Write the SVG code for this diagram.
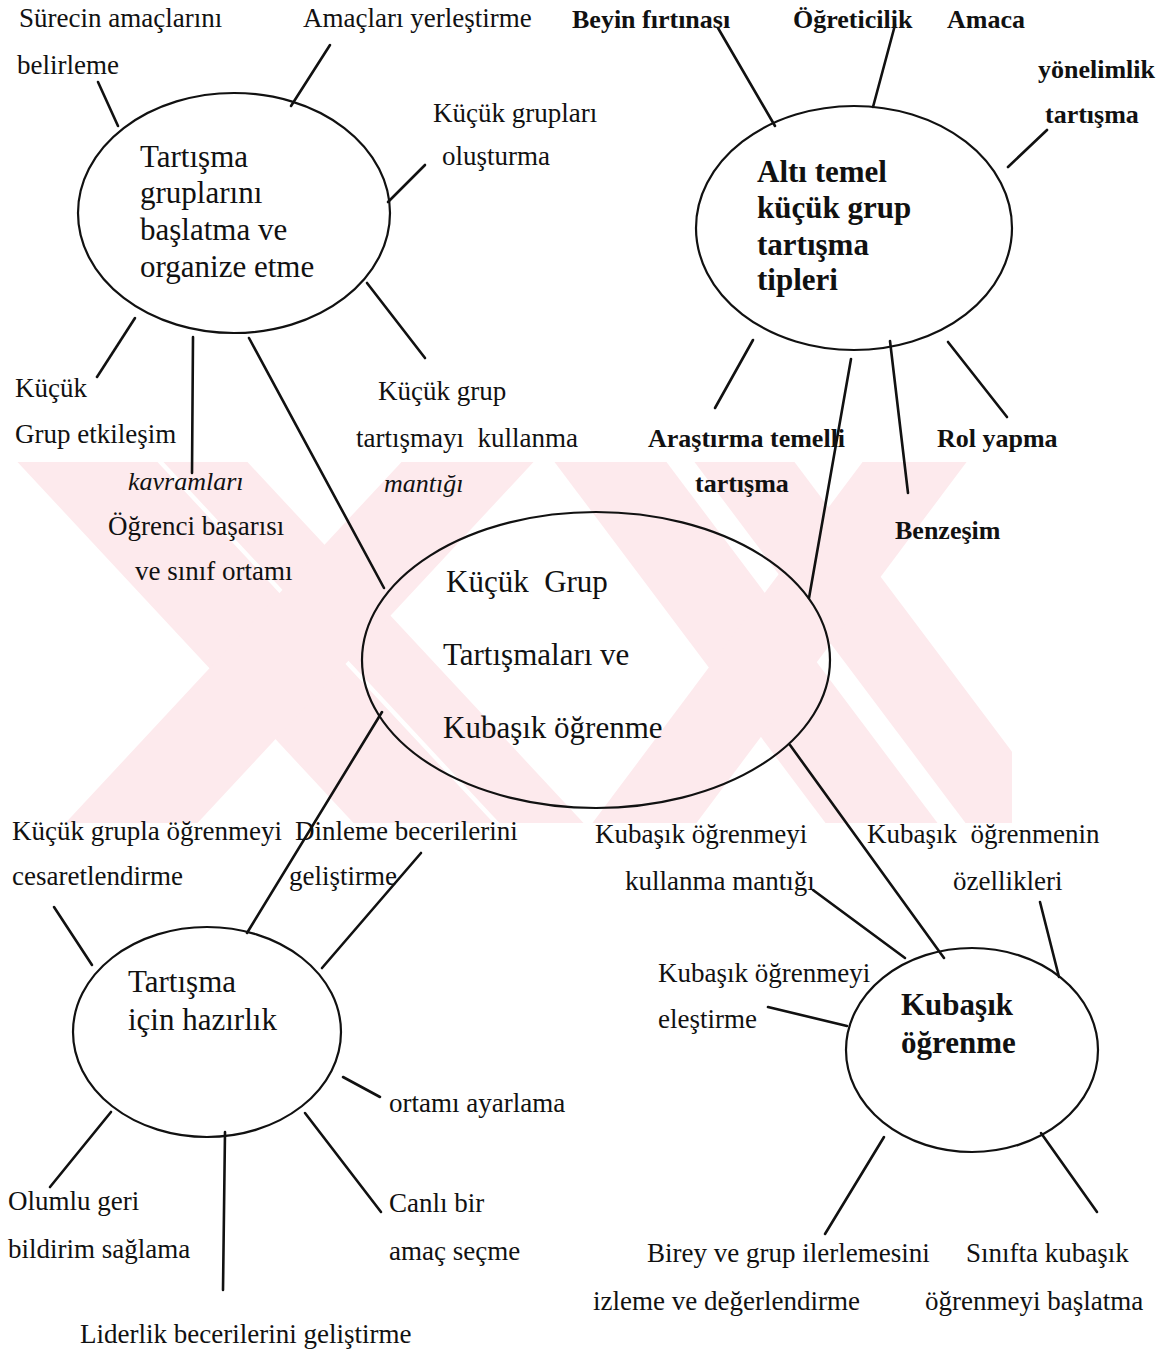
<svg xmlns="http://www.w3.org/2000/svg" width="1165" height="1359" viewBox="0 0 1165 1359">
  <style>
    .bg { fill: #ffffff; }
    .wm { fill: #fdeaed; }
    .node { fill: none; stroke: #111; stroke-width: 2.2; }
    .link { stroke: #111; stroke-width: 2.6; stroke-linecap: round; fill: none; }
    text { font-family: "Liberation Serif", "Times New Roman", serif; fill: #111; white-space: pre; }
    .lbl { font-size: 27px; }
    .lblb { font-size: 26px; font-weight: bold; }
    .lbli { font-size: 26px; font-style: italic; }
    .title { font-size: 31px; }
    .titleb { font-size: 31px; font-weight: bold; }
  </style>
  <defs>
    <clipPath id="wmClip">
      <rect x="15" y="462" width="997" height="361"/>
    </clipPath>
  </defs>

  <rect class="bg" x="0" y="0" width="1165" height="1359"/>

  <!-- faint background mark -->
  <g id="watermark" clip-path="url(#wmClip)">
    <polygon class="wm" points="-3,440 137,440 514,845 374,845"/>
    <polygon class="wm" points="143,440 227,440 604,845 520,845"/>
    <polygon class="wm" points="422,440 554,440 177,845 45,845"/>
    <polygon class="wm" points="538,440 650,440 954,845 842,845"/>
    <polygon class="wm" points="678,440 778,440 1082,845 982,845"/>
    <polygon class="wm" points="879,440 983,440 680,845 576,845"/>
  </g>

  <!-- connectors -->
  <g id="connectors">
    <!-- spokes of the organising ellipse -->
    <line class="link" x1="98" y1="82" x2="118" y2="126"/>
    <line class="link" x1="330" y1="45" x2="291" y2="106"/>
    <line class="link" x1="388" y1="202" x2="425" y2="165"/>
    <line class="link" x1="367" y1="283" x2="425" y2="358"/>
    <line class="link" x1="135" y1="318" x2="97" y2="377"/>
    <line class="link" x1="193" y1="337" x2="192" y2="473"/>
    <line class="link" x1="249" y1="338" x2="384" y2="588"/>
    <!-- spokes of the discussion-types ellipse -->
    <line class="link" x1="718" y1="28" x2="775" y2="126"/>
    <line class="link" x1="895" y1="25" x2="873" y2="107"/>
    <line class="link" x1="1047" y1="130" x2="1008" y2="167"/>
    <line class="link" x1="753" y1="340" x2="715" y2="408"/>
    <line class="link" x1="851" y1="359" x2="809" y2="598"/>
    <line class="link" x1="890" y1="341" x2="908" y2="493"/>
    <line class="link" x1="948" y1="342" x2="1007" y2="417"/>
    <!-- centre to lower ellipses -->
    <line class="link" x1="382" y1="712" x2="247" y2="933"/>
    <line class="link" x1="790" y1="745" x2="944" y2="958"/>
    <!-- spokes of the preparation ellipse -->
    <line class="link" x1="54" y1="907" x2="92" y2="965"/>
    <line class="link" x1="421" y1="853" x2="322" y2="968"/>
    <line class="link" x1="343" y1="1077" x2="380" y2="1097"/>
    <line class="link" x1="305" y1="1113" x2="381" y2="1212"/>
    <line class="link" x1="225" y1="1132" x2="223" y2="1290"/>
    <line class="link" x1="111" y1="1112" x2="50" y2="1187"/>
    <!-- spokes of the cooperative-learning ellipse -->
    <line class="link" x1="813" y1="890" x2="905" y2="958"/>
    <line class="link" x1="1040" y1="902" x2="1059" y2="977"/>
    <line class="link" x1="768" y1="1007" x2="847" y2="1026"/>
    <line class="link" x1="884" y1="1137" x2="825" y2="1234"/>
    <line class="link" x1="1041" y1="1133" x2="1097" y2="1212"/>
  </g>

  <!-- main nodes -->
  <g id="node-organize">
    <ellipse class="node" cx="234" cy="213" rx="156" ry="120"/>
    <text class="title" x="140" y="167">Tartışma</text>
    <text class="title" x="140" y="203">gruplarını</text>
    <text class="title" x="140" y="240">başlatma ve</text>
    <text class="title" x="140" y="277">organize etme</text>
  </g>
  <g id="node-types">
    <ellipse class="node" cx="854" cy="228" rx="158" ry="122"/>
    <text class="titleb" x="757" y="182">Altı temel</text>
    <text class="titleb" x="757" y="218">küçük grup</text>
    <text class="titleb" x="757" y="255">tartışma</text>
    <text class="titleb" x="757" y="290">tipleri</text>
  </g>
  <g id="node-center">
    <ellipse class="node" cx="596" cy="660" rx="234" ry="148"/>
    <text class="title" x="446" y="592">Küçük  Grup</text>
    <text class="title" x="443" y="665">Tartışmaları ve</text>
    <text class="title" x="443" y="738">Kubaşık öğrenme</text>
  </g>
  <g id="node-preparation">
    <ellipse class="node" cx="207" cy="1032" rx="134" ry="105"/>
    <text class="title" x="128" y="992">Tartışma</text>
    <text class="title" x="128" y="1030">için hazırlık</text>
  </g>
  <g id="node-cooperative">
    <ellipse class="node" cx="972" cy="1050" rx="126" ry="102"/>
    <text class="titleb" x="901" y="1015">Kubaşık</text>
    <text class="titleb" x="901" y="1053">öğrenme</text>
  </g>

  <!-- labels around the organising ellipse -->
  <g id="lbl-surec"><text class="lbl" x="19" y="27">Sürecin amaçlarını</text><text class="lbl" x="17" y="74">belirleme</text></g>
  <g id="lbl-amaclari"><text class="lbl" x="303" y="27">Amaçları yerleştirme</text></g>
  <g id="lbl-kucuk-gruplari"><text class="lbl" x="433" y="122">Küçük grupları</text><text class="lbl" x="442" y="165">oluşturma</text></g>
  <g id="lbl-etkilesim"><text class="lbl" x="15" y="397">Küçük</text><text class="lbl" x="15" y="443">Grup etkileşim</text></g>
  <g id="lbl-kavramlari">
    <text class="lbli" x="128" y="490">kavramları</text>
    <text class="lbl" x="108" y="535">Öğrenci başarısı</text>
    <text class="lbl" x="135" y="580">ve sınıf ortamı</text>
  </g>
  <g id="lbl-mantik">
    <text class="lbl" x="378" y="400">Küçük grup</text>
    <text class="lbl" x="356" y="447">tartışmayı  kullanma</text>
    <text class="lbli" x="384" y="492">mantığı</text>
  </g>

  <!-- labels around the discussion-types ellipse -->
  <g id="lbl-beyin"><text class="lblb" x="572" y="28">Beyin fırtınası</text></g>
  <g id="lbl-ogreticilik"><text class="lblb" x="793" y="28">Öğreticilik</text></g>
  <g id="lbl-amaca">
    <text class="lblb" x="947" y="28">Amaca</text>
    <text class="lblb" x="1038" y="78">yönelimlik</text>
    <text class="lblb" x="1045" y="123">tartışma</text>
  </g>
  <g id="lbl-arastirma"><text class="lblb" x="648" y="447">Araştırma temelli</text><text class="lblb" x="695" y="492">tartışma</text></g>
  <g id="lbl-rol"><text class="lblb" x="937" y="447">Rol yapma</text></g>
  <g id="lbl-benzesim"><text class="lblb" x="895" y="539">Benzeşim</text></g>

  <!-- labels around the preparation ellipse -->
  <g id="lbl-cesaret"><text class="lbl" x="12" y="840">Küçük grupla öğrenmeyi</text><text class="lbl" x="12" y="885">cesaretlendirme</text></g>
  <g id="lbl-dinleme"><text class="lbl" x="295" y="840">Dinleme becerilerini</text><text class="lbl" x="289" y="885">geliştirme</text></g>
  <g id="lbl-ortam"><text class="lbl" x="389" y="1112">ortamı ayarlama</text></g>
  <g id="lbl-olumlu"><text class="lbl" x="8" y="1210">Olumlu geri</text><text class="lbl" x="8" y="1258">bildirim sağlama</text></g>
  <g id="lbl-canli"><text class="lbl" x="389" y="1212">Canlı bir</text><text class="lbl" x="389" y="1260">amaç seçme</text></g>
  <g id="lbl-liderlik"><text class="lbl" x="80" y="1343">Liderlik becerilerini geliştirme</text></g>

  <!-- labels around the cooperative-learning ellipse -->
  <g id="lbl-kullanma"><text class="lbl" x="595" y="843">Kubaşık öğrenmeyi</text><text class="lbl" x="625" y="890">kullanma mantığı</text></g>
  <g id="lbl-ozellik"><text class="lbl" x="867" y="843">Kubaşık  öğrenmenin</text><text class="lbl" x="953" y="890">özellikleri</text></g>
  <g id="lbl-elestir"><text class="lbl" x="658" y="982">Kubaşık öğrenmeyi</text><text class="lbl" x="658" y="1028">eleştirme</text></g>
  <g id="lbl-izleme"><text class="lbl" x="647" y="1262">Birey ve grup ilerlemesini</text><text class="lbl" x="593" y="1310">izleme ve değerlendirme</text></g>
  <g id="lbl-sinifta"><text class="lbl" x="966" y="1262">Sınıfta kubaşık</text><text class="lbl" x="925" y="1310">öğrenmeyi başlatma</text></g>
</svg>
